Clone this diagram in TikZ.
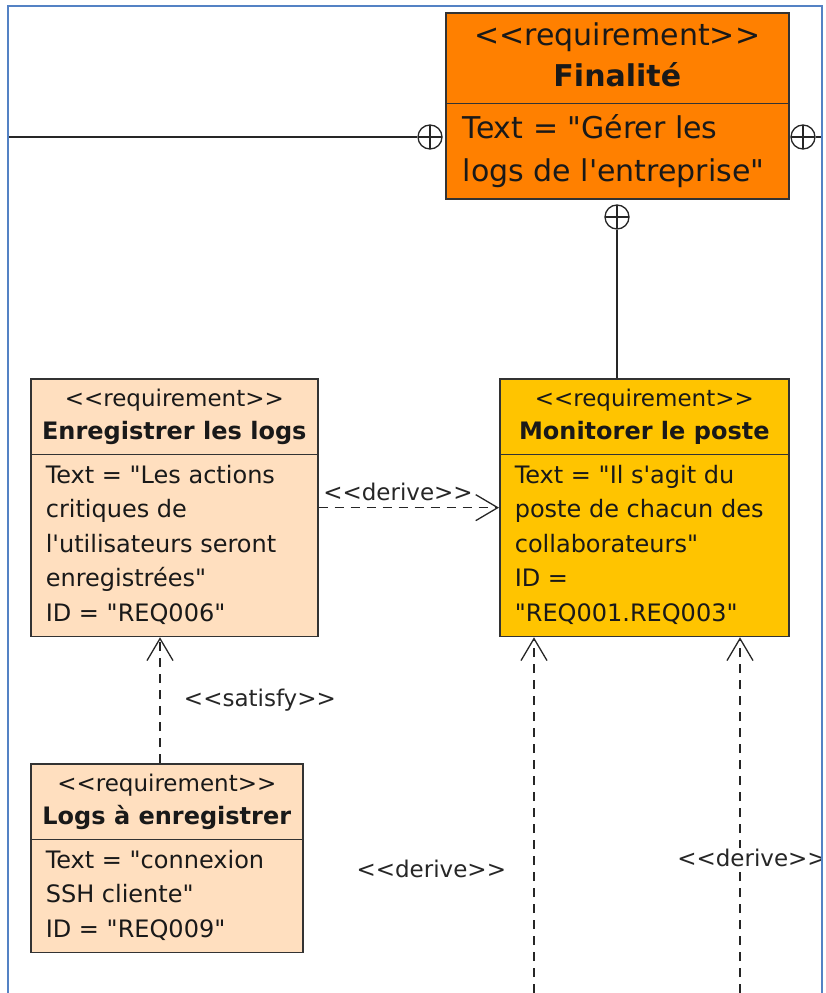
\documentclass[tikz,border=0pt]{standalone}
\usepackage{fontspec}
\newfontfamily\umlfont{DejaVu Sans}
\usetikzlibrary{shapes.multipart, arrows.meta}
\definecolor{finorange}{RGB}{255,128,0}
\definecolor{mongold}{RGB}{255,196,0}
\definecolor{peach}{RGB}{255,223,191}
\definecolor{frameblue}{RGB}{84,130,196}
\newcommand\umlsize[2]{\fontsize{#1}{#2}\selectfont\spaceskip=0pt\xspaceskip=0pt}
\newcommand\reqhead[1]{\centering\umlsize{23}{33}\strut<<requirement>>\\\umlsize{24}{33}\bfseries #1\strut\par}
\newcommand\reqbody{\raggedright\umlsize{24}{34.5}\leftskip=5pt\strut}
\tikzset{
  req/.style={rectangle split, rectangle split parts=2, draw=black!80, line width=1.6pt,
    inner xsep=10pt, inner ysep=4pt, font=\umlfont, text=black!90, anchor=north west},
  owner/.style={circle, draw=black!85, fill=white, line width=1.3pt, minimum size=24pt, inner sep=0pt,
    path picture={\draw[line width=1.3pt, black!85] (path picture bounding box.north) -- (path picture bounding box.south)
      (path picture bounding box.west) -- (path picture bounding box.east);}},
  link/.style={line width=1.5pt, black!85},
  dep/.style={line width=1.3pt, black!85, dash pattern=on 9pt off 7pt,
    -{Straight Barb[length=22pt, width=26pt, line width=1.3pt]}},
  lbl/.style={font={\umlfont\umlsize{23}{27}}, text=black!85}
}
\begin{document}
\begin{tikzpicture}[x=1pt, y=-1pt]
\useasboundingbox (0,0) rectangle (825,993);
\begin{scope}
\clip (0,0) rectangle (822,993);
\node[req, fill=finorange, text width=323pt] (fin) at (445,12)
  {\centering\umlsize{30}{40.5}\strut<<requirement>>\\\bfseries Finalité\strut\par
   \nodepart{two}\raggedright\umlsize{30}{43}\leftskip=7pt\strut Text = "Gérer les\\logs de l'entreprise"\strut\par};
\node[req, fill=peach, text width=267pt] (enr) at (30,378)
  {\reqhead{Enregistrer les logs}
   \nodepart{two}\reqbody Text = "Les actions\\critiques de\\l'utilisateurs seront\\enregistrées"\\ID = "REQ006"\strut\par};
\node[req, fill=mongold, text width=269pt] (mon) at (499,378)
  {\reqhead{Monitorer le poste}
   \nodepart{two}\reqbody Text = "Il s'agit du\\poste de chacun des\\collaborateurs"\\ID =\\"REQ001.REQ003"\strut\par};
\node[req, fill=peach, text width=252pt] (logs) at (30,763)
  {\reqhead{Logs à enregistrer}
   \nodepart{two}\reqbody Text = "connexion\\SSH cliente"\\ID = "REQ009"\strut\par};

\node[owner] (cl) at (430,137) {};
\node[owner] (cr) at (803,137) {};
\node[owner] (cb) at (617,217) {};
\coordinate (wl) at (8,137);
\coordinate (wr) at (822,137);
\coordinate (s) at (160,0);
\coordinate (b1) at (534,993);
\coordinate (b2) at (740,993);

\draw[link] (wl) -- (cl);
\draw[link] (cr) -- (wr);
\draw[link] (cb) -- (cb |- mon.north);
\draw[dep] (enr.east) -- (mon.west) node[lbl, above=3pt, pos=.44]{<<derive>>};
\draw[dep] (s |- logs.north) -- (s |- enr.south) node[lbl, right=20pt, midway]{<<satisfy>>};
\draw[dep] (b1) -- (b1 |- mon.south) node[lbl, left=24pt, pos=.35]{<<derive>>};
\draw[dep] (b2) -- (b2 |- mon.south) node[lbl, fill=white, inner sep=1pt, xshift=12pt, pos=.38]{<<derive>>};
\end{scope}
\draw[frameblue, line width=1.2pt] (8,993) |- (822,6) -- (822,993);
\end{tikzpicture}
\end{document}
